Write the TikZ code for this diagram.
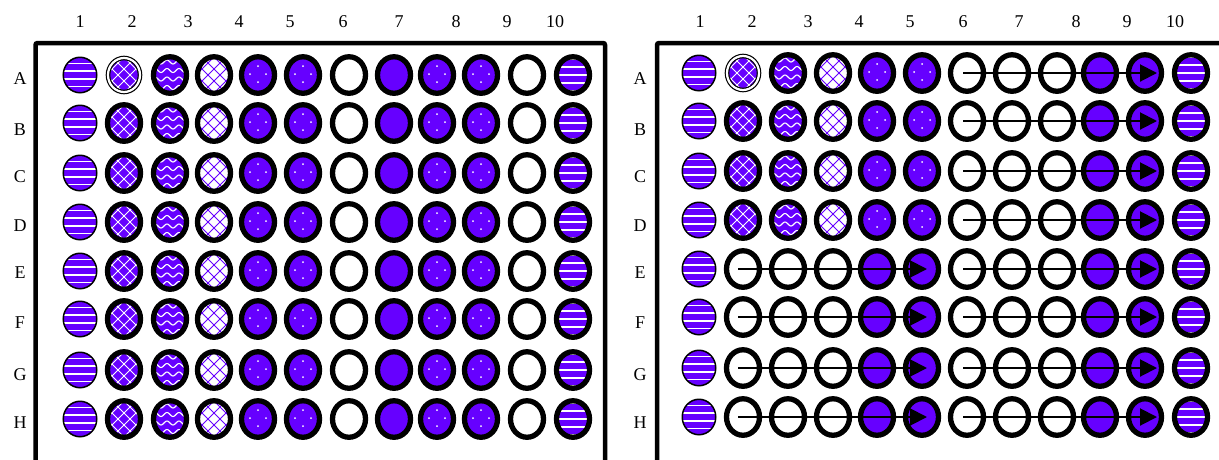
\documentclass[tikz,border=0pt]{standalone}
\usepackage{fontspec}
\setmainfont{Liberation Serif}
\usetikzlibrary{arrows.meta,shapes.geometric}
\definecolor{purp}{HTML}{6600FF}

\newcommand\ppbg[1]{\fill[#1] (path picture bounding box.south west) rectangle (path picture bounding box.north east);}
\newcommand\patStripes[1]{%
  \ppbg{purp}%
  \begin{scope}[shift={(path picture bounding box.center)}]
    \foreach \o in {#1} {\draw[white, line width=1.4] (-25,\o) -- (25,\o);}
  \end{scope}}
\newcommand\patHatch[2]{%
  \ppbg{#1}%
  \begin{scope}[shift={(path picture bounding box.center)}]
    \foreach \k in {-54,-42,...,54} {%
      \draw[#2, line width=1.0] (\k-25,-25) -- (\k+25,25);
      \draw[#2, line width=1.0] (\k-25,25) -- (\k+25,-25);}
  \end{scope}}
\newcommand\patWave{%
  \ppbg{purp}%
  \begin{scope}[shift={(path picture bounding box.center)}]
    \foreach \o in {-13,-4.5,4,12.5} {%
      \draw[white, line width=1.1] plot[domain=-20:20, samples=41, smooth] (\x,{\o+2*sin(\x*360/12)});}
  \end{scope}}
\newcommand\patDots{%
  \ppbg{purp}%
  \begin{scope}[shift={(path picture bounding box.center)}]
    \foreach \p in {(-8,-1),(8,-1),(0,-9),(0,7),(-8,15),(8,15),(-8,-17),(8,-17),(16,7),(-16,7),(16,-9),(-16,-9)}
      {\fill[white] \p circle[radius=1];}
  \end{scope}}

\tikzset{
  wThick/.style={ellipse, inner sep=0pt, minimum width=33pt, minimum height=36.5pt, draw=black, line width=5.3pt},
  wThin/.style={ellipse, inner sep=0pt, minimum width=33.5pt, minimum height=35.5pt, draw=black, line width=1.5pt},
  wEmpty/.style={wThick, fill=white},
  wSolid/.style={wThick, fill=purp},
  wStripeA/.style={wThin, path picture={\patStripes{-11.7,-3.9,3.9,11.7}}},
  wStripeB/.style={wThick, path picture={\patStripes{-16,-8,0,8,16}}},
  wHatch/.style={wThick, path picture={\patHatch{purp}{white}}},
  wHatchDbl/.style={ellipse, inner sep=0pt, minimum width=32pt, minimum height=34pt, draw=black, line width=1.2pt, double=white, double distance=2.2pt, path picture={\patHatch{purp}{white}}},
  wWave/.style={wThick, path picture={\patWave}},
  wLattice/.style={wThick, path picture={\patHatch{white}{purp}}},
  wDots/.style={wThick, path picture={\patDots}},
  lab/.style={inner sep=0pt, font=\fontsize{18}{20}\selectfont},
  frame/.style={draw=black, line width=4.5pt, rounded corners=2pt},
  arr/.style={draw=black, line width=2pt, -{Triangle[length=17pt,width=17pt]}}
}

\begin{document}
\begin{tikzpicture}[x=1pt, y=-1pt]
\clip (0,0) rectangle (1219,459);
\fill[white] (0,0) rectangle (1219,459);

% frames
\draw[frame] (35.5,520) |- (605,43) -- (605,520);
\draw[frame] (657,520) |- (1250,43) -- (1250,520);

% column labels
\foreach \x [count=\i] in {80,132,188,239,290,343,399,456,507,555} {
  \node[lab] (Lc\i) at (\x,22) {\i};
  \node[lab] (Rc\i) at (\x+620,22) {\i};
}
% row labels
\foreach \r/\y in {A/79,B/130,C/177,D/226,E/273,F/323,G/375,H/423} {
  \node[lab] (Lr\r) at (20,\y) {\r};
  \node[lab] (Rr\r) at (640,\y) {\r};
}

% left plate
\foreach \r/\y/\h in {A/75/wHatchDbl,B/123/wHatch,C/173/wHatch,D/222/wHatch,E/271/wHatch,F/319/wHatch,G/370/wHatch,H/419/wHatch} {
  \foreach \x/\t [count=\c] in {80/wStripeA,124/wHatch,170/wWave,214/wLattice,258/wDots,303/wDots,349/wEmpty,394/wSolid,437/wDots,481/wDots,527/wEmpty,573/wStripeB} {
    \ifnum\c=2 \node[\h] (L\r\c) at (\x,\y) {};
    \else \node[\t] (L\r\c) at (\x,\y) {};\fi
  }
}

% right plate rows A-D
\foreach \r/\y/\h in {A/73/wHatchDbl,B/121/wHatch,C/171/wHatch,D/220/wHatch} {
  \foreach \x/\t [count=\c] in {699/wStripeA,743/wHatch,788/wWave,833/wLattice,877/wDots,922/wDots,967/wEmpty,1012/wEmpty,1057/wEmpty,1100/wSolid,1145/wSolid,1191/wStripeB} {
    \ifnum\c=2 \node[\h] (R\r\c) at (\x,\y) {};
    \else \node[\t] (R\r\c) at (\x,\y) {};\fi
  }
  \draw[arr, shorten <=-4pt, shorten >=-12pt] (R\r7.center) -- (R\r11.center);
}
% right plate rows E-H
\foreach \r/\y in {E/269,F/317,G/368,H/417} {
  \foreach \x/\t [count=\c] in {699/wStripeA,743/wEmpty,788/wEmpty,833/wEmpty,877/wSolid,922/wSolid,967/wEmpty,1012/wEmpty,1057/wEmpty,1100/wSolid,1145/wSolid,1191/wStripeB} {
    \node[\t] (R\r\c) at (\x,\y) {};
  }
  \draw[arr, shorten <=-5pt, shorten >=-5pt] (R\r2.center) -- (R\r6.center);
  \draw[arr, shorten <=-4pt, shorten >=-12pt] (R\r7.center) -- (R\r11.center);
}
\end{tikzpicture}
\end{document}
